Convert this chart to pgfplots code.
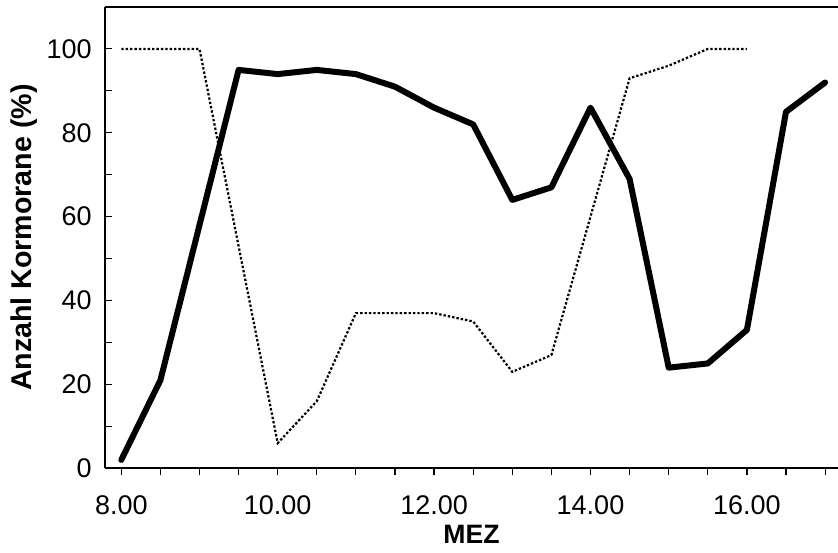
\documentclass[border=0pt]{standalone}
\usepackage{pgfplots}
\pgfplotsset{compat=1.18}
\usepackage{fontspec}
\setmainfont{Liberation Sans}
\begin{document}
\begin{tikzpicture}
\begin{axis}[
  name=ax,
  scale only axis,
  width=366.5pt, height=230.65pt,
  xmin=7.7916, xmax=17.165,
  ymin=0, ymax=110,
  axis x line*=bottom, axis y line*=left,
  axis line style={line width=0.85pt},
  xtick={8,10,12,14,16},
  xticklabels={8.00,10.00,12.00,14.00,16.00},
  minor xtick={8.5,9,9.5,10.5,11,11.5,12.5,13,13.5,14.5,15,15.5,16.5,17},
  ytick={0,20,40,60,80,100},
  minor ytick={10,30,50,70,90},
  x tick style={black, line width=0.6pt},
  y tick style={black, line width=0.5pt},
  xtick align=outside,
  ytick align=inside,
  major tick length=3.5pt, minor tick length=3.5pt,
  ticklabel style={font=\fontsize{13.5}{15}\selectfont},
  /pgf/number format/assume math mode=true,
  xticklabel style={inner sep=0pt, anchor=north, yshift=-10pt},
  yticklabel style={inner sep=0pt, anchor=east, xshift=-6.5pt},
  xlabel={\textbf{MEZ}},
  ylabel={\textbf{Anzahl Kormorane (\%)}},
  xlabel style={font=\fontsize{13.3}{15}\selectfont, inner sep=0pt, at={(axis description cs:0.5,0)}, anchor=north, yshift=-28.5pt},
  ylabel style={font=\fontsize{14.3}{16}\selectfont, inner sep=0pt, at={([xshift=-47.5pt]axis description cs:0,0.5)}, anchor=north},
  clip=false,
]
\draw[line width=0.85pt] (rel axis cs:0,1) -- (rel axis cs:1,1);
\addplot[black, line width=3pt, line join=round, line cap=round] coordinates {
(8,2) (8.5,21) (9,58) (9.5,95) (10,94) (10.5,95) (11,94) (11.5,91) (12,86) (12.5,82) (13,64) (13.5,67) (14,86) (14.5,69) (15,24) (15.5,25) (16,33) (16.5,85) (17,92)
};
\addplot[black, line width=1.1pt, dash pattern=on 1.2pt off 1.0pt] coordinates {
(8,100) (8.5,100) (9,100) (9.5,53) (10,6) (10.5,16) (11,37) (11.5,37) (12,37) (12.5,35) (13,23) (13.5,27) (14,60) (14.5,93) (15,96) (15.5,100) (16,100)
};
\end{axis}
\pgfresetboundingbox
\path ([xshift=-52.5pt,yshift=-42.35pt]ax.south west) rectangle ([yshift=3.5pt]ax.north east);
\end{tikzpicture}
\end{document}
